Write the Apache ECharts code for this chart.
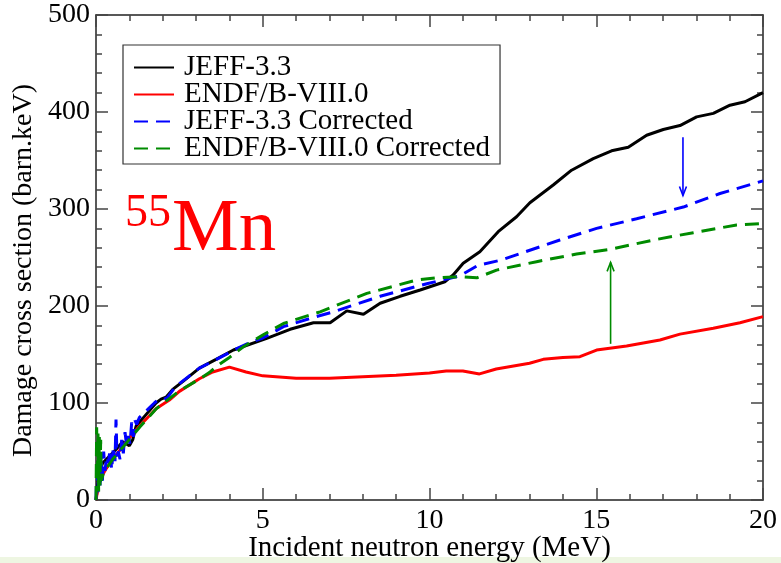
<!DOCTYPE html>
<html>
<head>
<meta charset="utf-8">
<script src="https://cdn.jsdelivr.net/npm/echarts@6/dist/echarts.min.js"></script>
<style>
  html, body { margin: 0; padding: 0; background: #ffffff; }
  #chart { width: 781px; height: 563px; }
</style>
</head>
<body>
<div id="chart"></div>
<script>
// Damage cross section of 55Mn versus incident neutron energy (MeV -> barn.keV)

const xTicks = [0, 5, 10, 15, 20];
const yTicks = [0, 100, 200, 300, 400, 500];

// JEFF-3.3
const jeffE = [0, 0.1, 0.2, 0.4, 0.6, 0.8, 1.0, 1.1, 1.2, 1.5, 1.8, 1.95, 2.1, 2.3, 2.6, 3.1, 3.6,
  4.12, 5.12, 5.82, 6.52, 7.02, 7.52, 8.02, 8.52, 9.12, 9.72, 10.46, 10.71, 11.01, 11.51, 12.06,
  12.61, 13.01, 13.71, 14.26, 14.91, 15.46, 15.96, 16.51, 17.01, 17.51, 18.01, 18.51, 19.01, 19.46, 20];
const jeffY = [0, 30, 38, 45, 52, 60, 56, 62, 76, 88, 100, 104, 106, 114, 122, 136, 145,
  154.6, 166.7, 176, 182.8, 182.8, 195, 191.4, 202.8, 210, 216.5, 225, 232, 244, 256, 276.6,
  292, 306.5, 324.7, 340, 352, 360, 363.6, 376, 382, 386, 395, 398.6, 407, 410.6, 420];

// ENDF/B-VIII.0
const endfE = [0, 0.1, 0.3, 0.5, 0.8, 1.0, 1.3, 1.8, 2.2, 2.5, 3.1, 3.5, 4.0, 4.5, 5.0, 6.0, 7.0,
  8.0, 9.0, 10.0, 10.5, 11.0, 11.5, 12.0, 13.0, 13.41, 14.0, 14.51, 15.01, 15.91, 16.91, 17.51,
  18.51, 19.31, 20];
const endfY = [0, 20, 32, 42, 55, 64, 76, 94, 103, 112, 125, 132, 137, 132, 128, 125.5, 125.5,
  127, 128.5, 131, 133, 133, 130, 135, 141, 145, 147, 147.7, 154.6, 158.8, 165, 171,
  177, 182.8, 189];

// JEFF-3.3 Corrected
const jeffCorrE = [0, 0.03, 0.06, 0.09, 0.12, 0.15, 0.19, 0.23, 0.27, 0.32, 0.37, 0.42, 0.47, 0.52,
  0.57, 0.6, 0.63, 0.67, 0.72, 0.77, 0.82, 0.87, 0.92, 0.97, 1.02, 1.07, 1.12, 1.17, 1.22, 1.3,
  1.45, 1.6, 1.75, 1.85, 2.0, 2.15, 2.3, 2.5, 2.8, 3.1, 3.5, 4.0, 4.22, 4.6, 5.0, 5.62, 6.5, 7.12,
  8.52, 9.92, 10.91, 11.46, 12.11, 12.71, 13.91, 15.01, 16.21, 17.61, 18.71, 20];
const jeffCorrY = [0, 40, 8, 45, 15, 48, 18, 50, 30, 45, 38, 52, 31, 55,
  40, 83, 45, 50, 42, 62, 48, 70, 55, 66, 58, 80, 65, 82, 78, 85,
  90, 95, 100, 103, 103, 106, 113, 120, 128, 136, 143, 152, 156, 162, 167, 178.7, 188, 194,
  210, 223, 231, 242, 247, 254, 268, 280, 290, 302, 316, 329];

// ENDF/B-VIII.0 Corrected
const endfCorrE = [0, 0.02, 0.04, 0.06, 0.08, 0.1, 0.12, 0.14, 0.16, 0.22, 0.5, 0.82, 1.32, 1.82,
  2.52, 3.12, 3.42, 3.7, 4.0, 4.42, 5.0, 5.62, 6.72, 8.12, 9.62, 10.2, 10.72, 11.0, 11.42, 12.01,
  13.21, 14.41, 15.41, 16.71, 17.91, 19.21, 20];
const endfCorrY = [0, 75, 20, 70, 8, 65, 15, 62, 20, 27.5, 42, 55, 75.6, 94.5,
  113, 125, 132, 140, 147, 158, 170, 182, 194, 213, 226.8, 229, 230, 230, 229, 237,
  245.7, 253.6, 258.4, 268, 275.6, 283.5, 285];

// Arrows: [energy, from, to]
const arrowBlue = [17.6, 374, 314];
const arrowGreen = [15.43, 161, 245];

const seriesNames = ['JEFF-3.3', 'ENDF/B-VIII.0', 'JEFF-3.3 Corrected', 'ENDF/B-VIII.0 Corrected'];

const FONT = "'Liberation Serif', 'DejaVu Serif', 'Times New Roman', serif";
const C_BLACK = '#000000', C_RED = '#ff0000', C_BLUE = '#0000ff', C_GREEN = '#008b00';

const pairs = (xs, ys) => xs.map((x, i) => [x, ys[i]]);

function lineSeries(name, xs, ys, color, dashed) {
  return {
    name: name,
    type: 'line',
    data: pairs(xs, ys),
    showSymbol: false,
    symbol: 'none',
    xAxisIndex: 0,
    yAxisIndex: 0,
    clip: true,
    lineStyle: { color: color, width: 3, type: dashed ? [14, 8] : 'solid' },
    itemStyle: { color: color },
    z: 3
  };
}

function arrowSeries(arr, color) {
  return {
    type: 'custom',
    xAxisIndex: 0,
    yAxisIndex: 0,
    silent: true,
    z: 4,
    data: [arr],
    renderItem: function (params, api) {
      const p0 = api.coord([api.value(0), api.value(1)]);
      const p1 = api.coord([api.value(0), api.value(2)]);
      const dir = p1[1] > p0[1] ? 1 : -1;
      const hl = 9, hw = 3.5;
      return {
        type: 'group',
        children: [
          { type: 'line', shape: { x1: p0[0], y1: p0[1], x2: p1[0], y2: p1[1] },
            style: { stroke: color, lineWidth: 1.6 } },
          { type: 'polyline', shape: { points: [[p1[0] - hw, p1[1] - dir * hl], [p1[0], p1[1]], [p1[0] + hw, p1[1] - dir * hl]] },
            style: { stroke: color, lineWidth: 1.6, fill: 'none' } }
        ]
      };
    }
  };
}

const tickStyle = { color: '#444', width: 1.5 };

// One side of the plot frame, ticks pointing into the plot
function frameAxis(range, position, extra) {
  return Object.assign({
    type: 'value', min: range[0], max: range[1], interval: range[2], position: position,
    axisLine: { show: true, onZero: false, lineStyle: { color: '#222', width: 1.5 } },
    axisTick: { show: true, inside: true, length: 12, lineStyle: tickStyle },
    minorTick: { show: true, splitNumber: 5, length: 6, lineStyle: tickStyle },
    splitLine: { show: false },
    minorSplitLine: { show: false },
    axisLabel: { show: false }
  }, extra || {});
}

const xRange = [0, 20, 5];
const yRange = [0, 500, 100];

const chart = echarts.init(document.getElementById('chart'), null, { renderer: 'canvas' });

chart.setOption({
  animation: false,
  backgroundColor: '#ffffff',
  grid: { left: 96, right: 18, top: 15, bottom: 63, containLabel: false, outerBoundsMode: 'none' },
  legend: {
    data: seriesNames,
    orient: 'vertical',
    left: 123,
    top: 45,
    padding: [8, 10, 1, 10],
    itemGap: -2,
    itemWidth: 40,
    itemHeight: 14,
    borderColor: '#333',
    borderWidth: 1.2,
    backgroundColor: '#ffffff',
    itemStyle: { opacity: 0 },
    textStyle: { fontFamily: FONT, fontSize: 29, color: '#000', padding: [0, 0, 0, 5] },
    selectedMode: false
  },
  xAxis: [
    frameAxis(xRange, 'bottom', {
      name: 'Incident neutron energy (MeV)', nameLocation: 'middle', nameGap: 34,
      nameMoveOverlap: false,
      nameTextStyle: { fontFamily: FONT, fontSize: 29, color: '#000' },
      axisLabel: { show: true, fontFamily: FONT, fontSize: 28, color: '#000', margin: 7,
        formatter: v => (xTicks.includes(v) ? String(v) : '') }
    }),
    frameAxis(xRange, 'top')
  ],
  yAxis: [
    frameAxis(yRange, 'left', {
      name: 'Damage cross section (barn.keV)', nameLocation: 'middle', nameGap: 58,
      nameMoveOverlap: false,
      nameRotate: 90,
      nameTextStyle: { fontFamily: FONT, fontSize: 28, color: '#000', padding: [0, 26, 0, 0] },
      axisLabel: { show: true, fontFamily: FONT, fontSize: 28, color: '#000', margin: 6,
        formatter: v => (yTicks.includes(v) ? String(v) : '') }
    }),
    frameAxis(yRange, 'right')
  ],
  graphic: [
    {
      type: 'text', left: 125, top: 191, z: 10,
      style: { text: '55', font: "46px " + FONT, fill: '#ff0000' }
    },
    {
      type: 'text', left: 172, top: 193, z: 10,
      style: { text: 'Mn', font: "75px " + FONT, fill: '#ff0000' }
    },
    {
      type: 'rect', left: 0, top: 557, z: 0,
      shape: { width: 781, height: 6 },
      style: { fill: '#eef6e2' }
    }
  ],
  series: [
    lineSeries(seriesNames[0], jeffE, jeffY, C_BLACK, false),
    lineSeries(seriesNames[1], endfE, endfY, C_RED, false),
    lineSeries(seriesNames[2], jeffCorrE, jeffCorrY, C_BLUE, true),
    lineSeries(seriesNames[3], endfCorrE, endfCorrY, C_GREEN, true),
    arrowSeries(arrowBlue, C_BLUE),
    arrowSeries(arrowGreen, C_GREEN)
  ]
});
</script>
</body>
</html>
